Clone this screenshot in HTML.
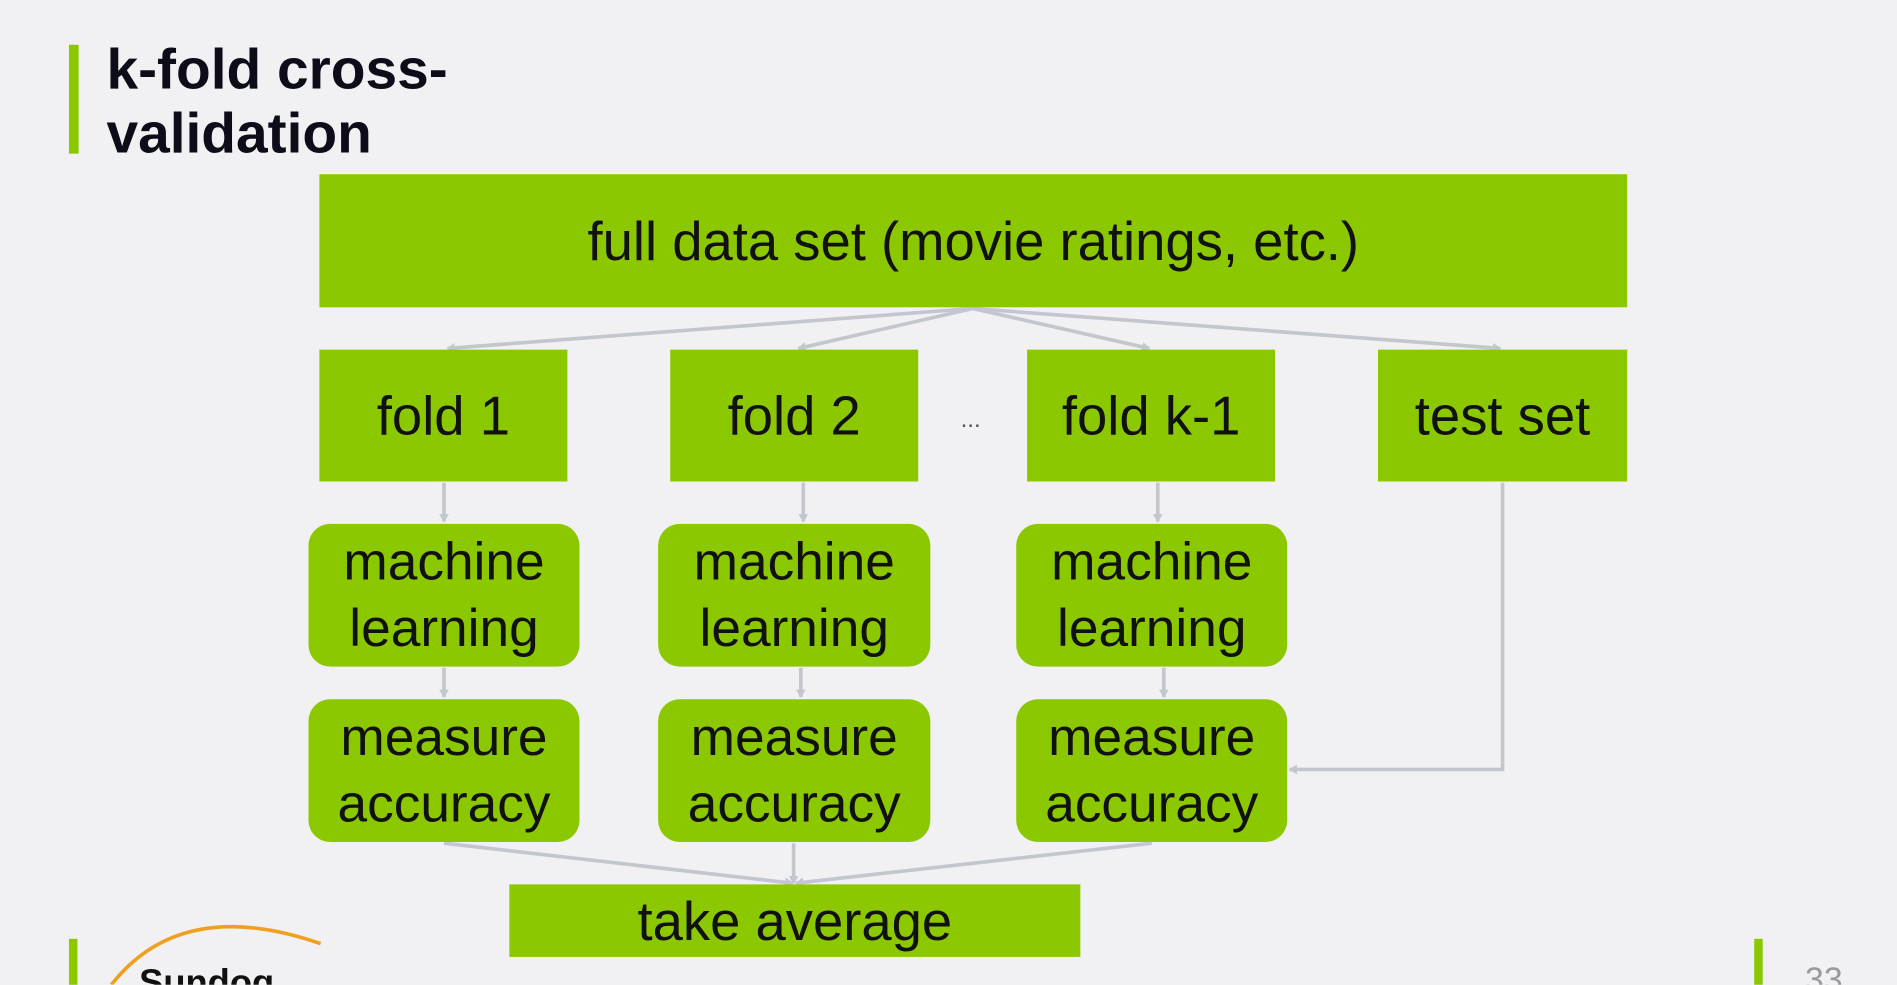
<!DOCTYPE html>
<html><head><meta charset="utf-8"><style>
html,body{margin:0;padding:0;background:#f1f1f3;overflow:hidden}
#s{position:absolute;left:0;top:0;width:1568px;height:814px;transform:scale(1.2098);transform-origin:0 0;font-family:"Liberation Sans Narrow","Liberation Sans",sans-serif;overflow:hidden}
.b{position:absolute;background:#8cc800;color:#111;display:flex;align-items:center;justify-content:center;text-align:center;font-size:45px;line-height:55px}
.r{border-radius:18px;font-size:44px}
.t{position:absolute;left:88px;top:30px;font-weight:bold;font-size:47px;line-height:53px;color:#0d0d1a}
</style></head><body><div id="s">
<div style="position:absolute;left:57px;top:37px;width:8px;height:90px;background:#8cc800"></div>
<div class="t">k-fold cross-<br>validation</div>
<svg style="position:absolute;left:0;top:0" width="1568" height="814">
<defs><marker id="a" markerWidth="8" markerHeight="8" refX="6" refY="4" orient="auto" markerUnits="userSpaceOnUse"><path d="M0,0 L7,4 L0,8 z" fill="#c3c6cd"/></marker></defs>
<g stroke="#c3c6cd" stroke-width="3" fill="none" marker-end="url(#a)">
<line x1="804" y1="255" x2="370" y2="288"/><line x1="804" y1="255" x2="660" y2="288"/>
<line x1="804" y1="255" x2="950" y2="288"/><line x1="804" y1="255" x2="1240" y2="288"/>
<line x1="367" y1="399" x2="367" y2="431"/><line x1="664" y1="399" x2="664" y2="431"/><line x1="957" y1="399" x2="957" y2="431"/>
<line x1="367" y1="552" x2="367" y2="576"/><line x1="662" y1="552" x2="662" y2="576"/><line x1="962" y1="552" x2="962" y2="576"/>
<polyline points="1242,399 1242,636 1066,636"/>
<line x1="367" y1="697" x2="655" y2="730"/><line x1="656" y1="697" x2="656" y2="730"/><line x1="952" y1="697" x2="658" y2="730"/>
</g>
<path d="M92 814 Q150 740 265 780" stroke="#f0a020" stroke-width="3" fill="none"/>
</svg>
<div class="b" style="left:264px;top:144px;width:1081px;height:110px">full data set (movie ratings, etc.)</div>
<div class="b" style="left:264px;top:289px;width:205px;height:109px">fold 1</div>
<div class="b" style="left:554px;top:289px;width:205px;height:109px">fold 2</div>
<div style="position:absolute;left:794px;top:336px;font-size:20px;color:#555">...</div>
<div class="b" style="left:849px;top:289px;width:205px;height:109px">fold k-1</div>
<div class="b" style="left:1139px;top:289px;width:206px;height:109px">test set</div>
<div class="b r" style="left:255px;top:433px;width:224px;height:118px">machine<br>learning</div>
<div class="b r" style="left:544px;top:433px;width:225px;height:118px">machine<br>learning</div>
<div class="b r" style="left:840px;top:433px;width:224px;height:118px">machine<br>learning</div>
<div class="b r" style="left:255px;top:578px;width:224px;height:118px">measure<br>accuracy</div>
<div class="b r" style="left:544px;top:578px;width:225px;height:118px">measure<br>accuracy</div>
<div class="b r" style="left:840px;top:578px;width:224px;height:118px">measure<br>accuracy</div>
<div class="b" style="left:421px;top:731px;width:472px;height:60px">take average</div>
<div style="position:absolute;left:57px;top:776px;width:7px;height:40px;background:#8cc800"></div>
<div style="position:absolute;left:1450px;top:776px;width:7px;height:40px;background:#8cc800"></div>
<div style="position:absolute;left:115px;top:796px;font-weight:bold;font-size:30px;color:#111">Sundog</div>
<div style="position:absolute;left:1492px;top:794px;font-size:28px;color:#999">33</div>
</div></body></html>
